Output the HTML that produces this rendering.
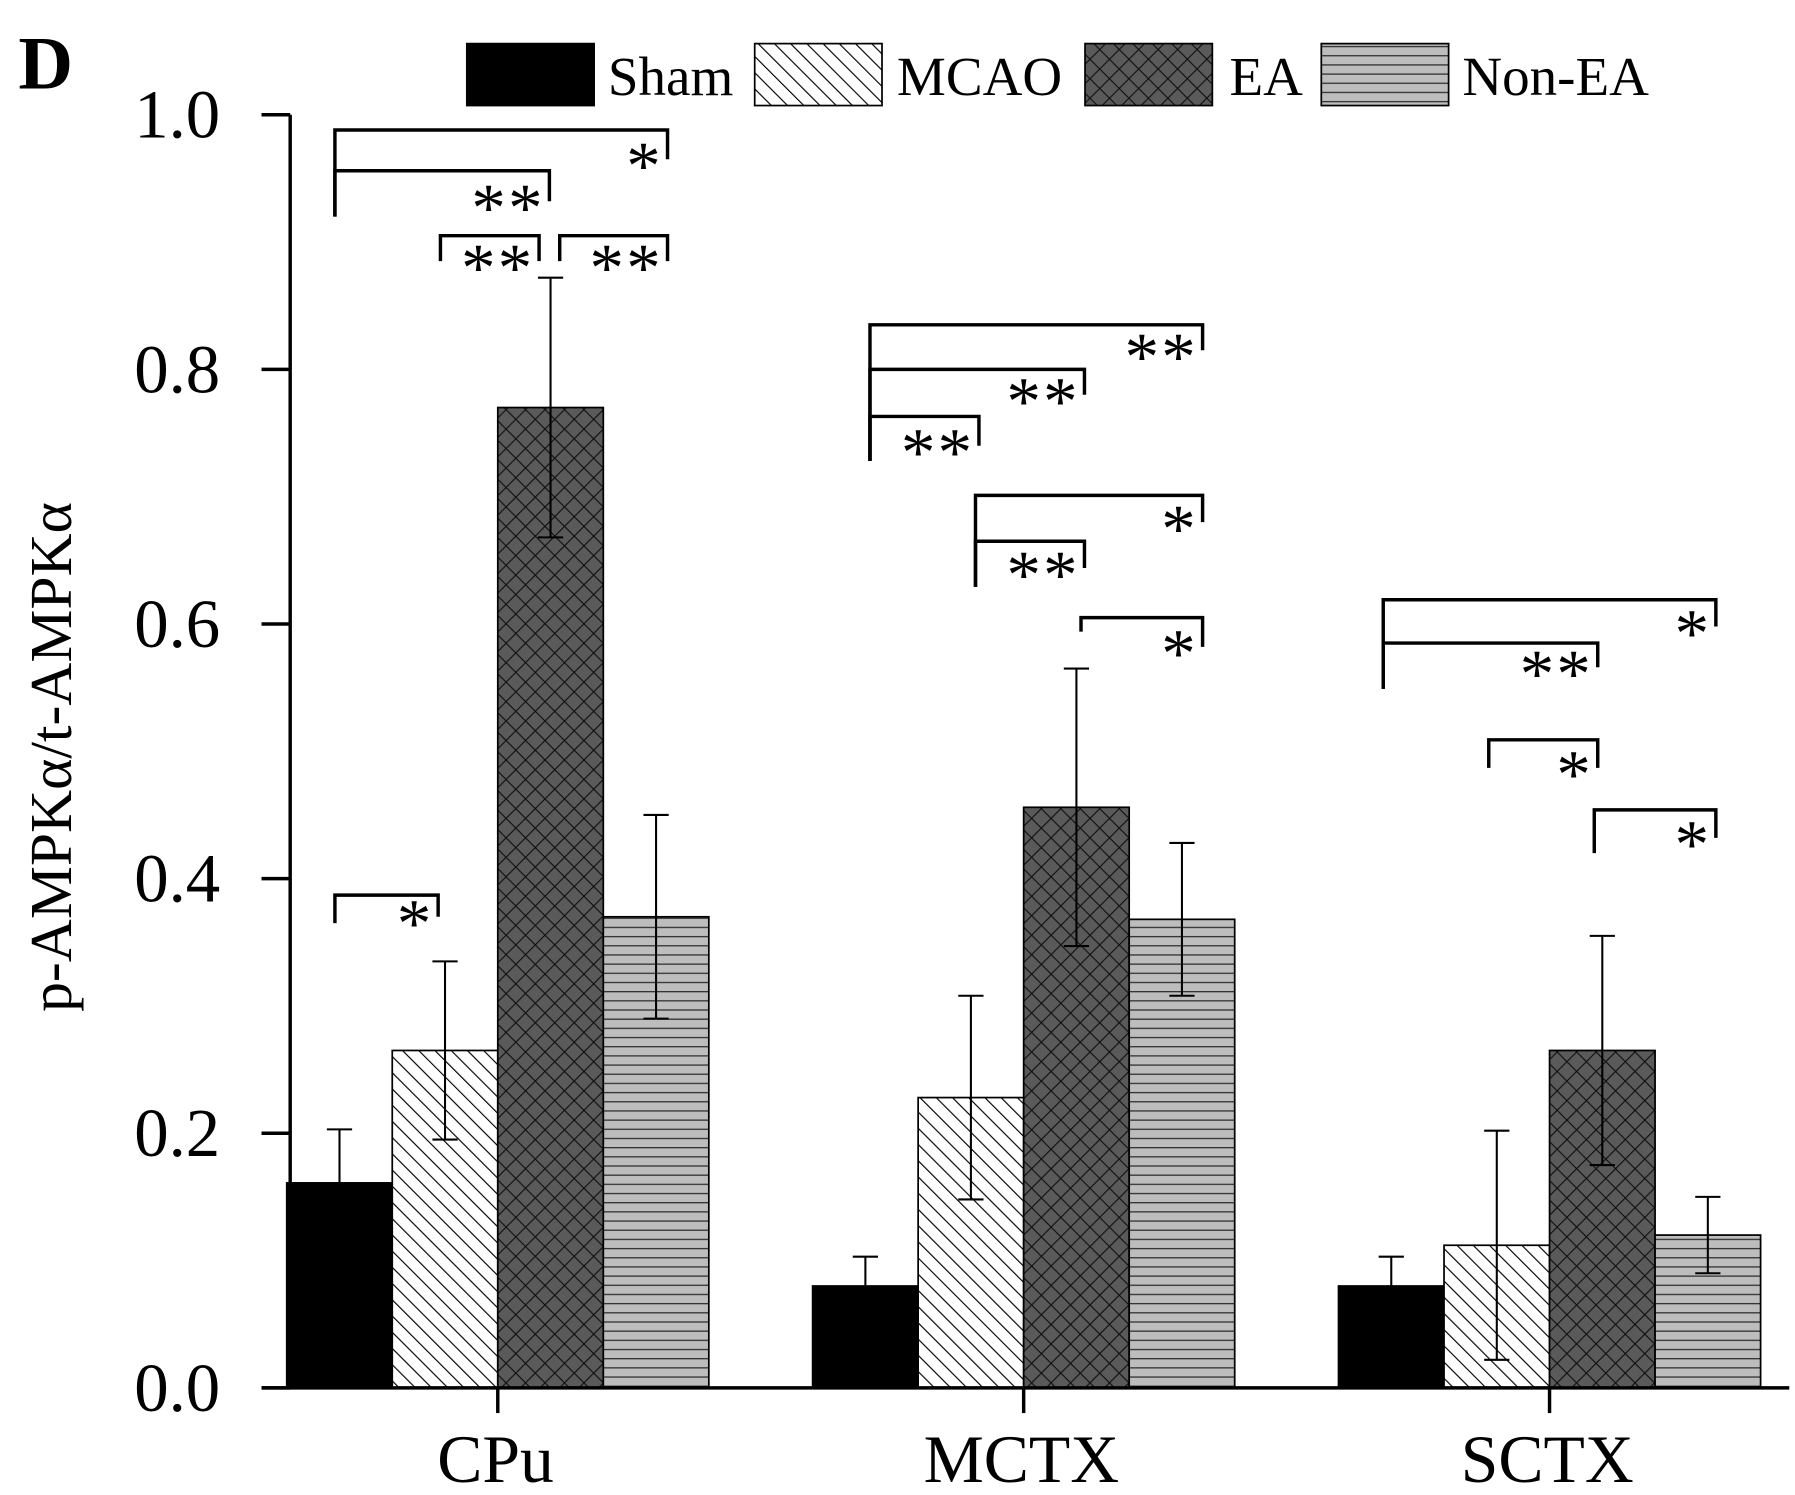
<!DOCTYPE html>
<html><head><meta charset="utf-8"><style>
html,body{margin:0;padding:0;background:#fff;}
svg{display:block;font-family:"Liberation Serif","DejaVu Serif",serif;}
</style></head><body>
<svg id="chart" width="1795" height="1495" viewBox="0 0 1565 1303.4" xmlns="http://www.w3.org/2000/svg">
<defs>
<pattern id="pDiag" patternUnits="userSpaceOnUse" width="10" height="10" patternTransform="rotate(-45)">
<rect width="10" height="10" fill="#fff"/><line x1="0" y1="0" x2="0" y2="10" stroke="#000" stroke-width="2"/></pattern>
<pattern id="pCross" patternUnits="userSpaceOnUse" width="12" height="12" patternTransform="rotate(45)">
<rect width="12" height="12" fill="#5a5a5a"/><line x1="0" y1="0" x2="0" y2="12" stroke="#111" stroke-width="2"/><line x1="0" y1="0" x2="12" y2="0" stroke="#111" stroke-width="2"/></pattern>
<pattern id="pHor" patternUnits="userSpaceOnUse" width="10" height="8">
<rect width="10" height="8" fill="#bdbdbd"/><line x1="0" y1="0.5" x2="10" y2="0.5" stroke="#333" stroke-width="1.3"/></pattern>
</defs>
<g id="plot"></g>
</svg>
<script>
const categories = ["CPu","MCTX","SCTX"];
const seriesNames = ["Sham","MCAO","EA","Non-EA"];
const sham = [0.161, 0.080, 0.080];
const mcao = [0.265, 0.228, 0.112];
const ea = [0.770, 0.456, 0.265];
const nonEa = [0.370, 0.368, 0.120];
const shamErr = [0.042, 0.023, 0.023];
const mcaoErr = [0.070, 0.080, 0.090];
const eaErr = [0.102, 0.109, 0.090];
const nonEaErr = [0.080, 0.060, 0.030];
const yTicks = [0.0, 0.2, 0.4, 0.6, 0.8, 1.0];
const yTickLabels = ["0.0","0.2","0.4","0.6","0.8","1.0"];
// significance brackets: [category, leftSeries, rightSeries, level(value), leftLegEnd, rightLegEnd, stars]
const sigBrackets = [
 [0,0,3,0.988,0.920,0.965,"*"],
 [0,0,2,0.956,0.920,0.932,"**"],
 [0,1,2,0.905,0.885,0.885,"**"],
 [0,2,3,0.905,0.885,0.885,"**"],
 [0,0,1,0.387,0.365,0.370,"*"],
 [1,0,3,0.835,0.728,0.815,"**"],
 [1,0,2,0.800,0.728,0.780,"**"],
 [1,0,1,0.763,0.728,0.740,"**"],
 [1,1,3,0.701,0.629,0.680,"*"],
 [1,1,2,0.665,0.629,0.644,"**"],
 [1,2,3,0.605,0.594,0.582,"*"],
 [2,0,3,0.619,0.549,0.598,"*"],
 [2,0,2,0.585,0.549,0.566,"**"],
 [2,1,2,0.509,0.487,0.487,"*"],
 [2,2,3,0.454,0.420,0.432,"*"]
];
const values=[sham,mcao,ea,nonEa], errs=[shamErr,mcaoErr,eaErr,nonEaErr];
const fills=["#000","url(#pDiag)","url(#pCross)","url(#pHor)"];
const x0=250, groupStep=458.5, barW=92, y0=1210, yH=1110;
const catShift=[-10,-2,-13];
const yS=v=>y0-v*yH;
const xBar=(c,s)=>x0+c*groupStep+s*barW;
const NS="http://www.w3.org/2000/svg";
const g=document.getElementById('plot');
function mk(tag,attrs,parent){const e=document.createElementNS(NS,tag);for(const k in attrs)e.setAttribute(k,attrs[k]);(parent||g).appendChild(e);return e;}
for(let c=0;c<categories.length;c++){for(let s=0;s<4;s++){
 const v=values[s][c],e=errs[s][c],bx=xBar(c,s);
 const r=mk('rect',{x:bx,y:yS(v),width:barW,height:yS(0)-yS(v),fill:fills[s],stroke:"#000","stroke-width":1.5});
 
 
 const cx=bx+barW/2;
 const eb=mk('path',{d:`M${cx} ${yS(v-e)}V${yS(v+e)}M${cx-11} ${yS(v+e)}H${cx+11}M${cx-11} ${yS(v-e)}H${cx+11}`,stroke:"#000","stroke-width":1.8,fill:"none"});
 
 
}}
const ax=mk('path',{d:`M253 100V${y0}M228 ${y0}H1560`,stroke:"#000","stroke-width":3,fill:"none"});


for(let i=0;i<yTicks.length;i++){
 const y=yS(yTicks[i]);
 const t=mk('line',{x1:228,x2:253,y1:y,y2:y,stroke:"#000","stroke-width":3});
 
 
 const l=mk('text',{x:192,y:y+20,"text-anchor":"end","font-size":60});
 l.textContent=yTickLabels[i];
 
 
}
for(let c=0;c<categories.length;c++){
 const cx=x0+c*groupStep+2*barW;
 const t=mk('line',{x1:cx,x2:cx,y1:y0,y2:y0+22,stroke:"#000","stroke-width":3});
 
 
 const l=mk('text',{x:cx-2,y:1292,"text-anchor":"middle","font-size":59});
 l.textContent=categories[c];
 
 
}
for(const b of sigBrackets){
 const [c,a,bb,lv,le,re,st]=b;
 let dl=6, dr=(bb===3?20:9);
 if(c===0&&a===2) dl=18;
 if(c===0&&a===1&&bb===2) dr=0;
 if(c===0&&bb===1) dr=4;
 const xL=xBar(c,a)+barW/2+dl+catShift[c], xR=xBar(c,bb)+barW/2+dr+catShift[c];
 const p=mk('path',{d:`M${xL} ${yS(le)}V${yS(lv)}H${xR}V${yS(re)}`,stroke:"#000","stroke-width":3,fill:"none"});
 
 
 const t=mk('text',{x:xR-4,y:yS(re)+26,"text-anchor":"end","font-size":60,"letter-spacing":2});
 t.textContent=st;
 
 
}
const legX=[407,658,946,1152], legTx=[530,782,1072,1275];
for(let s=0;s<4;s++){
 const r=mk('rect',{x:legX[s],y:38,width:111,height:54,fill:fills[s],stroke:"#000","stroke-width":1.5});
 
 
 const t=mk('text',{x:legTx[s],y:83,"font-size":48});
 t.textContent=seriesNames[s];
 
 
}
const yl=mk('text',{x:0,y:0,"text-anchor":"middle","font-size":52,transform:"translate(62,660) rotate(-90)"});
yl.textContent="p-AMPKα/t-AMPKα";


const pl=mk('text',{x:16,y:77,"font-size":66,"font-weight":"bold"});
pl.textContent="D";


</script>
</body></html>
